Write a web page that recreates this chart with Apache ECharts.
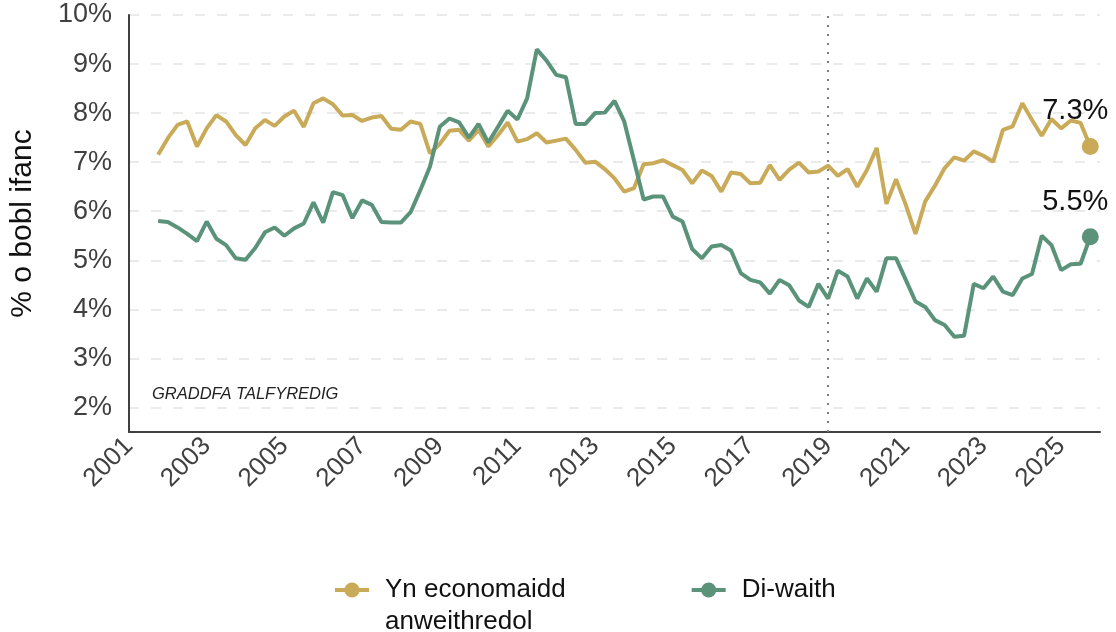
<!DOCTYPE html>
<html>
<head>
<meta charset="utf-8">
<script src="https://cdn.jsdelivr.net/npm/echarts@6/dist/echarts.min.js"></script>
<style>
  html, body { margin: 0; padding: 0; background: #fff; }
  #chart { width: 1116px; height: 632px; }
</style>
</head>
<body>
<div id="chart"></div>
<script>
// chwarteri: y pwynt cyntaf yw diwedd 2001, un pwynt bob chwarter
var firstQuarter = 2001.75;
var breakYear = 2019;

var inactiveName = 'Yn economaidd anweithredol';
var unemployedName = 'Di-waith';

var inactive = [
  7.15, 7.49, 7.76, 7.83, 7.32, 7.69, 7.96, 7.83, 7.55, 7.35, 7.69, 7.86, 7.74, 7.93, 8.05, 7.72,
  8.20, 8.30, 8.18, 7.95, 7.96, 7.84, 7.91, 7.94, 7.68, 7.66, 7.83, 7.78, 7.18, 7.37, 7.64, 7.66,
  7.44, 7.66, 7.32, 7.55, 7.81, 7.42, 7.47, 7.59, 7.40, 7.44, 7.48, 7.25, 6.99, 7.01, 6.86, 6.67,
  6.40, 6.47, 6.96, 6.98, 7.04, 6.94, 6.84, 6.57, 6.83, 6.72, 6.40, 6.79, 6.76, 6.57, 6.58, 6.94,
  6.64, 6.85, 6.99, 6.79, 6.81, 6.93, 6.72, 6.86, 6.50, 6.84, 7.29, 6.15, 6.65, 6.13, 5.54, 6.20,
  6.52, 6.88, 7.10, 7.03, 7.22, 7.13, 7.01, 7.66, 7.73, 8.20, 7.86, 7.54, 7.88, 7.69, 7.85, 7.80,
  7.32
];
var unemployed = [
  5.80, 5.78, 5.67, 5.54, 5.39, 5.79, 5.44, 5.31, 5.04, 5.01, 5.25, 5.57, 5.67, 5.50, 5.65, 5.75,
  6.18, 5.77, 6.39, 6.33, 5.86, 6.22, 6.13, 5.78, 5.77, 5.77, 5.98, 6.43, 6.91, 7.72, 7.89, 7.81,
  7.50, 7.78, 7.40, 7.72, 8.05, 7.87, 8.30, 9.30, 9.07, 8.78, 8.73, 7.78, 7.78, 8.00, 8.01, 8.25,
  7.83, 7.04, 6.24, 6.30, 6.30, 5.89, 5.79, 5.23, 5.04, 5.28, 5.31, 5.20, 4.74, 4.60, 4.55, 4.32,
  4.60, 4.49, 4.18, 4.05, 4.52, 4.22, 4.79, 4.67, 4.22, 4.63, 4.36, 5.04, 5.04, 4.60, 4.16, 4.05,
  3.78, 3.68, 3.44, 3.46, 4.52, 4.43, 4.67, 4.36, 4.29, 4.63, 4.72, 5.50, 5.31, 4.80, 4.92, 4.93,
  5.48
];

var legendText = {};
legendText[inactiveName] = ' \nYn economaidd\nanweithredol';
legendText[unemployedName] = ' \nDi-waith\n ';

var gold = '#C9AA58';
var green = '#5B937A';

function toPoints(values) {
  return values.map(function (v, i) {
    var item = { value: [firstQuarter + i * 0.25, v] };
    if (i === values.length - 1) {
      item.label = {
        show: true,
        position: 'top',
        distance: 12,
        offset: [-15, 0],
        formatter: function (p) { return p.value[1].toFixed(1) + '%'; },
        fontFamily: 'Liberation Sans',
        fontSize: 29,
        color: '#111'
      };
    }
    return item;
  });
}

function lastOnly(len) {
  return function (val, params) { return params.dataIndex === len - 1 ? 17 : 0; };
}

var myChart = echarts.init(document.getElementById('chart'));
myChart.setOption({
  animation: false,
  textStyle: { fontFamily: 'Liberation Sans' },
  grid: { left: 129, right: 16, top: 15, bottom: 200 },
  xAxis: {
    type: 'value',
    min: 2001,
    max: 2026,
    interval: 1,
    axisLine: { show: true, onZero: false, lineStyle: { color: '#404040', width: 2 } },
    axisTick: { show: false },
    splitLine: { show: false },
    axisLabel: {
      rotate: 45,
      margin: 10,
      fontSize: 26,
      color: '#404040',
      formatter: function (v) { return (v - 2001) % 2 === 0 ? String(v) : ''; }
    }
  },
  yAxis: {
    type: 'value',
    min: 1.5,
    max: 10,
    interval: 0.5,
    name: '% o bobl ifanc',
    nameLocation: 'middle',
    nameGap: 91,
    nameTextStyle: { fontSize: 30, color: '#111' },
    axisLine: { show: true, lineStyle: { color: '#404040', width: 2 } },
    axisTick: { show: false },
    axisLabel: {
      margin: 17,
      fontSize: 27,
      color: '#404040',
      formatter: function (v) { return Math.abs(v - Math.round(v)) < 1e-6 ? Math.round(v) + '%' : ''; }
    },
    splitLine: {
      show: true,
      lineStyle: { color: ['rgba(0,0,0,0)', '#e3e3e3'], width: 1.5, type: [10, 12] }
    }
  },
  legend: {
    left: 328,
    top: 537,
    itemWidth: 34,
    itemHeight: 19,
    itemGap: 124,
    lineStyle: { width: 4 },
    formatter: function (name) { return legendText[name]; },
    textStyle: { fontSize: 26, color: '#111', lineHeight: 32, padding: [0, 0, 0, 11] },
    data: [inactiveName, unemployedName]
  },
  graphic: [{
    type: 'text',
    left: 152,
    top: 386,
    style: {
      text: 'GRADDFA TALFYREDIG',
      font: 'italic 16.5px "Liberation Sans"',
      fill: '#222'
    }
  }],
  series: [{
    name: inactiveName,
    type: 'line',
    data: toPoints(inactive),
    symbol: 'circle',
    symbolSize: lastOnly(inactive.length),
    lineStyle: { color: gold, width: 4 },
    itemStyle: { color: gold },
    z: 3
  }, {
    name: unemployedName,
    type: 'line',
    data: toPoints(unemployed),
    symbol: 'circle',
    symbolSize: lastOnly(unemployed.length),
    lineStyle: { color: green, width: 4 },
    itemStyle: { color: green },
    z: 4,
    markLine: {
      silent: true,
      symbol: 'none',
      label: { show: false },
      lineStyle: { color: '#857b76', width: 2, type: [2, 7] },
      data: [{ xAxis: breakYear }]
    }
  }]
});
</script>
</body>
</html>
